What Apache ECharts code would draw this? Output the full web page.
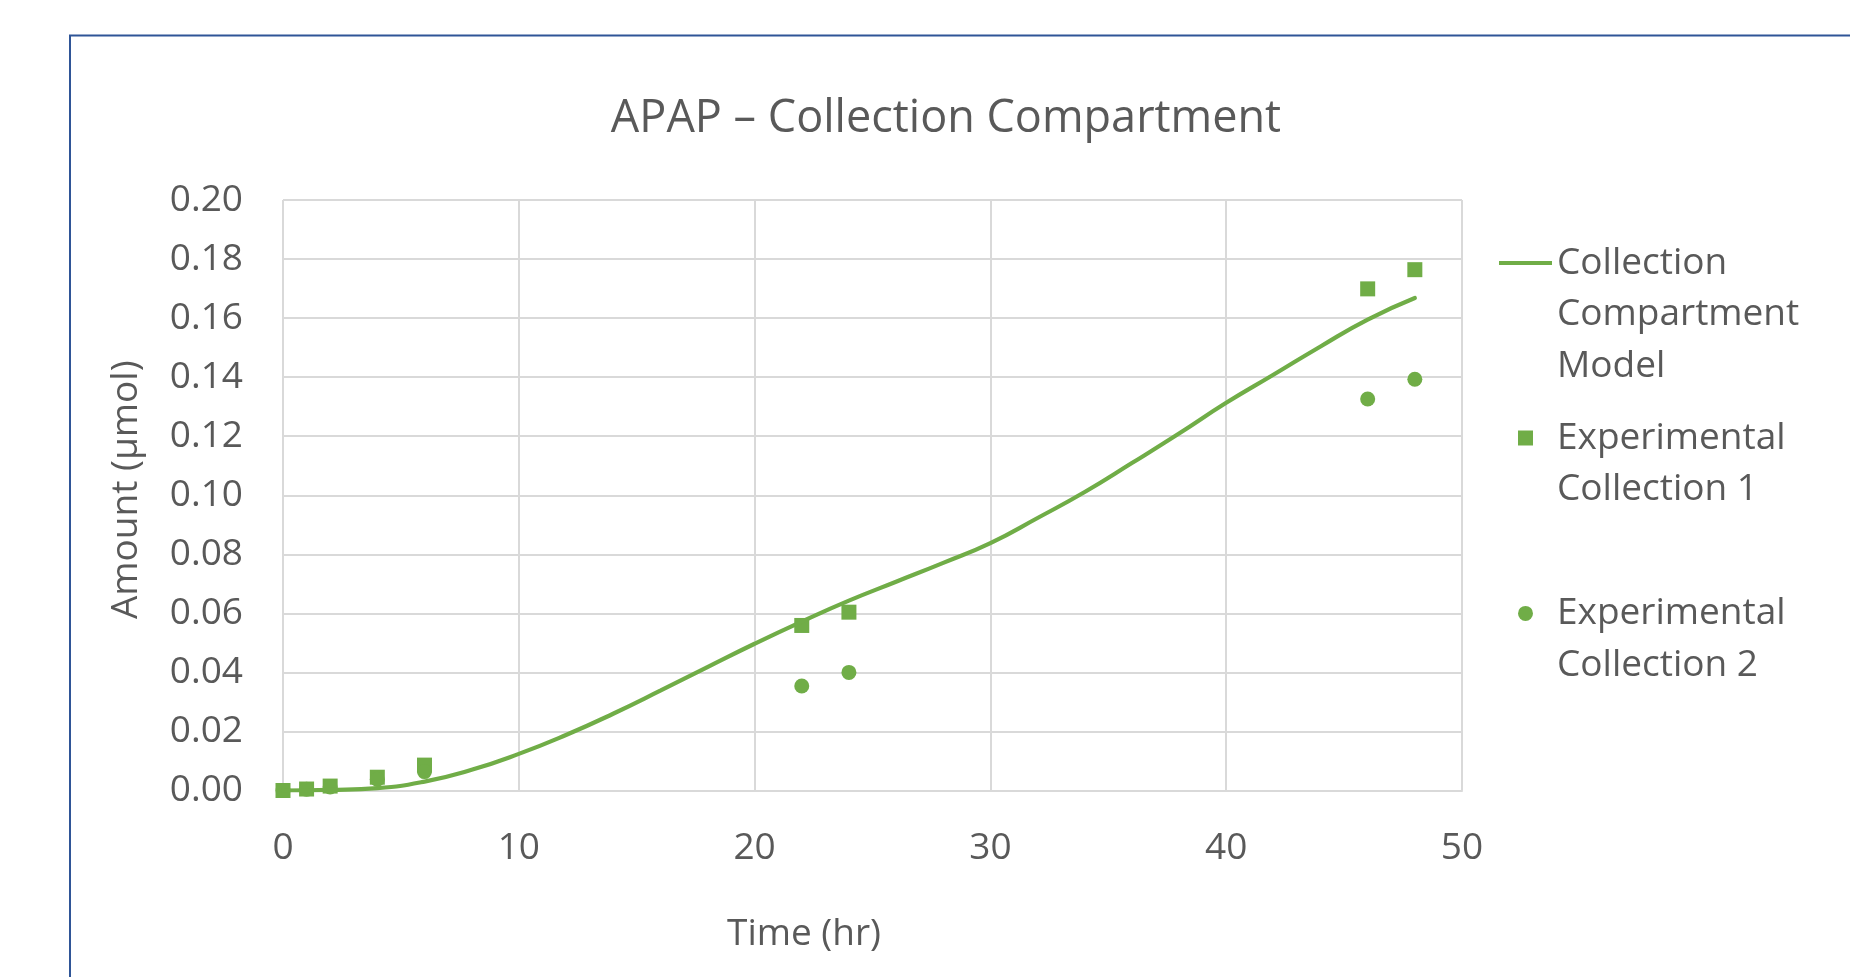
<!DOCTYPE html>
<html>
<head>
<meta charset="utf-8">
<script src="https://cdn.jsdelivr.net/npm/echarts@6/dist/echarts.min.js"></script>
<style>
html,body{margin:0;padding:0;background:#fff;}
#chart{width:1850px;height:977px;}
</style>
</head>
<body>
<div id="chart"></div>
<script>
// ---- data ----
const titleText = 'APAP \u2013 Collection Compartment';
const xAxisName = 'Time (hr)';
const yAxisName = 'Amount (\u00b5mol)';
const seriesNames = ['Collection Compartment Model', 'Experimental Collection 1', 'Experimental Collection 2'];
const legendLines = [['Collection', 'Compartment', 'Model'], ['Experimental', 'Collection 1'], ['Experimental', 'Collection 2']];

const modelTime = [0, 2, 4, 6, 8, 10, 12, 14, 16, 18, 20, 22, 24, 26, 28, 30, 32, 34, 36, 38, 40, 42, 44, 46, 48];
const modelAmount = [0, 0.0002, 0.0008, 0.003, 0.007, 0.0124, 0.0188, 0.026, 0.0338, 0.0418, 0.0497, 0.0572, 0.0643,
  0.0707, 0.0771, 0.0838, 0.0923, 0.1011, 0.1109, 0.1209, 0.1313, 0.1408, 0.1504, 0.1595, 0.1668];

const expTime = [0, 1, 2, 4, 6, 22, 24, 46, 48];
const exp1Amount = [0, 0.0005, 0.0015, 0.0045, 0.0086, 0.0559, 0.0604, 0.1699, 0.1764];
const exp2Amount = [0, 0.0004, 0.0012, 0.0038, 0.0064, 0.0354, 0.0400, 0.1326, 0.1393];

const xMin = 0, xMax = 50, xStep = 10;
const yMin = 0, yMax = 0.2, yStep = 0.02;

// ---- styling ----
const GREEN = '#70AD47';
const TEXT = '#595959';
const GRID = '#D9D9D9';
const FONT = "'Open Sans', 'Liberation Sans', sans-serif";

const zip = (xs, ys) => xs.map((x, i) => [x, ys[i]]);

const chart = echarts.init(document.getElementById('chart'), null, {renderer: 'canvas'});

const L = 51.7;
const ICON_H = 15;
// Each legend item: (n-1) blank lines are prepended so that the first text line
// sits level with the icon (the label block is centred on the icon).
function legendFor(idx, iconCenterY, icon, iconOffsetX) {
  const n = legendLines[idx].length;
  const label = new Array(n).join('\n') + legendLines[idx].join('\n');
  const halfBlock = (2 * n - 1) * L / 2;
  return {
    data: [{name: seriesNames[idx], icon: icon}],
    orient: 'vertical',
    left: 1499 + iconOffsetX,
    top: iconCenterY - halfBlock,
    padding: 0,
    itemWidth: 53,
    itemHeight: ICON_H,
    symbolKeepAspect: true,
    selectedMode: false,
    formatter: () => label,
    textStyle: {color: TEXT, fontFamily: FONT, fontSize: 37, lineHeight: L}
  };
}

const option = {
  backgroundColor: '#ffffff',
  animation: false,
  title: {
    text: titleText,
    left: 946,
    top: 97,
    textAlign: 'center',
    padding: 0,
    textStyle: {color: TEXT, fontFamily: FONT, fontSize: 45, fontWeight: 'normal'}
  },
  graphic: [{
    type: 'rect',
    shape: {x: 70, y: 35.5, width: 1900, height: 1100},
    style: {fill: 'none', stroke: '#2F5597', lineWidth: 2},
    silent: true,
    z: -1
  }],
  legend: [
    legendFor(0, 263, 'path://M0,0L53,0L53,4L0,4Z', 0),
    legendFor(1, 438, 'path://M0,0L10,0L10,10L0,10Z', 19),
    legendFor(2, 613.4, 'circle', 19)
  ],
  grid: {left: 283, right: 388, top: 200, bottom: 186.5, containLabel: false},
  xAxis: {
    type: 'value',
    min: xMin, max: xMax, interval: xStep,
    name: xAxisName,
    nameLocation: 'middle',
    nameGap: 125,
    nameTextStyle: {color: TEXT, fontFamily: FONT, fontSize: 37, padding: [0, 137, 0, 0]},
    axisLine: {show: true, lineStyle: {color: GRID, width: 2}},
    axisTick: {show: false},
    axisLabel: {color: TEXT, fontFamily: FONT, fontSize: 37, margin: 39},
    splitLine: {show: true, lineStyle: {color: GRID, width: 2}}
  },
  yAxis: {
    type: 'value',
    min: yMin, max: yMax, interval: yStep,
    name: yAxisName,
    nameLocation: 'middle',
    nameGap: 138,
    nameRotate: 90,
    nameTextStyle: {color: TEXT, fontFamily: FONT, fontSize: 37, padding: [0, 0, 0, 11]},
    axisLine: {show: false},
    axisTick: {show: false},
    axisLabel: {color: TEXT, fontFamily: FONT, fontSize: 37, margin: 40, padding: [4, 0, 0, 0], formatter: v => v.toFixed(2)},
    splitLine: {show: true, lineStyle: {color: GRID, width: 2}}
  },
  series: [
    {
      name: seriesNames[0],
      type: 'line',
      data: zip(modelTime, modelAmount),
      smooth: true,
      symbol: 'none',
      showSymbol: false,
      lineStyle: {color: GREEN, width: 4.2, cap: 'round'},
      itemStyle: {color: GREEN}
    },
    {
      name: seriesNames[1],
      type: 'scatter',
      data: zip(expTime, exp1Amount),
      symbol: 'rect',
      symbolSize: 15,
      itemStyle: {color: GREEN, opacity: 1}
    },
    {
      name: seriesNames[2],
      type: 'scatter',
      data: zip(expTime, exp2Amount),
      symbol: 'circle',
      symbolSize: 15,
      itemStyle: {color: GREEN, opacity: 1}
    }
  ]
};

chart.setOption(option);
</script>
</body>
</html>
